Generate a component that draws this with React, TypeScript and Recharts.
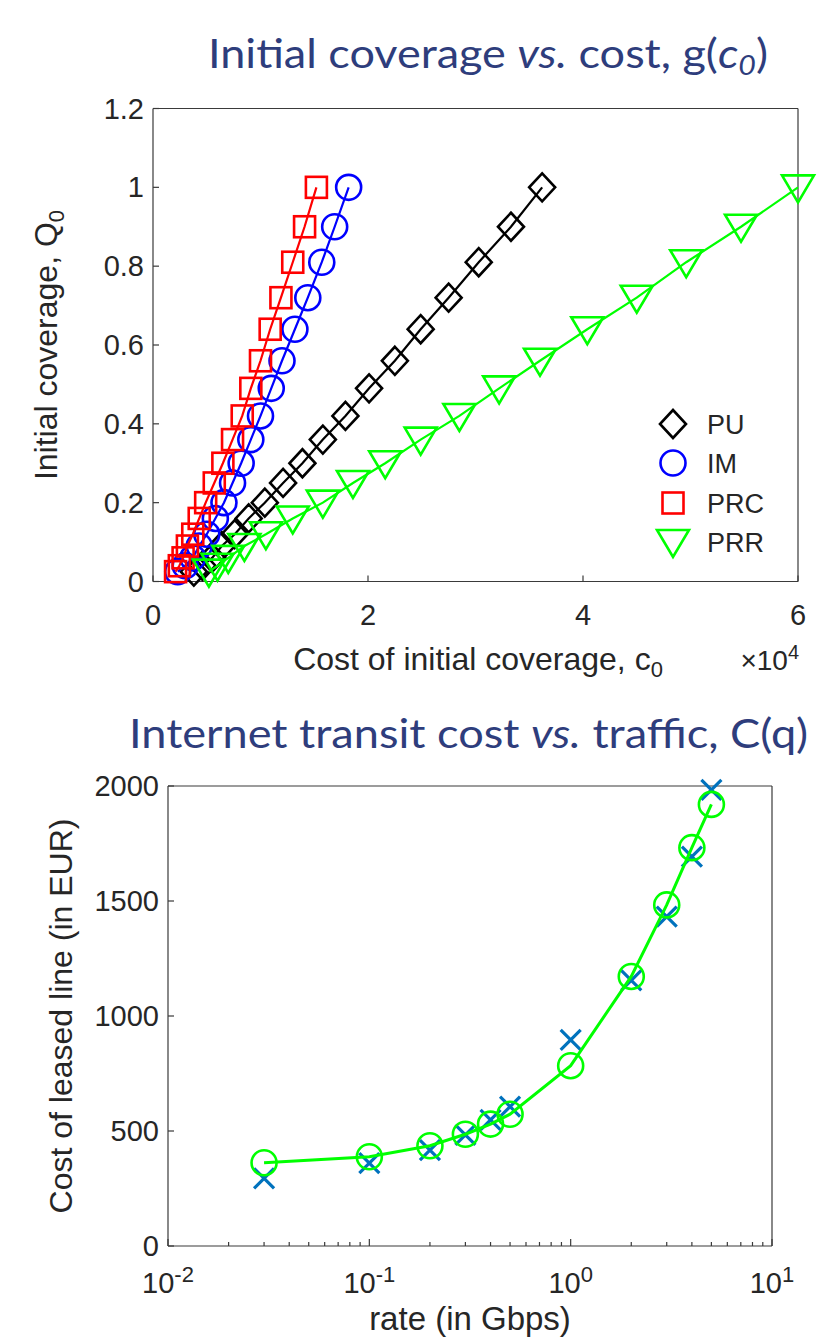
import React from 'react'
import { ScatterChart, Scatter, XAxis, YAxis } from 'recharts'

// initial coverage Q0 (shared by the four strategies) and cost c0 of each
const coverage = [1, 0.9, 0.81, 0.72, 0.64, 0.56, 0.49, 0.42, 0.36, 0.3, 0.25, 0.2, 0.16, 0.12, 0.09, 0.06, 0.04, 0.025]
const costPU = [36200, 33300, 30300, 27500, 24900, 22500, 20100, 17900, 15800, 13900, 12100, 10400, 8900, 7600, 6400, 5500, 4600, 3800]
const costIM = [18200, 16900, 15700, 14400, 13200, 12000, 11000, 10000, 9100, 8200, 7400, 6600, 5800, 5000, 4300, 3700, 3000, 2300]
const costPRC = [15200, 14100, 13000, 11900, 10900, 10000, 9100, 8300, 7400, 6500, 5700, 4900, 4300, 3700, 3200, 2800, 2450, 2100]
const costPRR = [60000, 54700, 49600, 45000, 40400, 36000, 32200, 28500, 24900, 21600, 18600, 15800, 13000, 10500, 8500, 7000, 6000, 5200]
const costTicks = [0, 20000, 40000, 60000]
const coverageTicks = [0, 0.2, 0.4, 0.6, 0.8, 1, 1.2]
const strategies = ['PU', 'IM', 'PRC', 'PRR']

// leased line cost vs rate
const rateGbps = [0.03, 0.1, 0.2, 0.3, 0.4, 0.5, 1, 2, 3, 4, 5]
const leasedEUR = [294, 360, 417, 483, 548, 606, 896, 1155, 1432, 1693, 1983]
const fittedEUR = [362, 388, 436, 486, 530, 573, 784, 1172, 1483, 1732, 1920]
const rateTicks = [0.01, 0.1, 1, 10]
const rateMinorTicks = [0.02, 0.03, 0.04, 0.05, 0.06, 0.07, 0.08, 0.09, 0.2, 0.3, 0.4, 0.5, 0.6, 0.7, 0.8, 0.9, 2, 3, 4, 5, 6, 7, 8, 9]
const eurTicks = [0, 500, 1000, 1500, 2000]

const FONT = '"Liberation Sans", Arial, Helvetica, sans-serif'
const TITLE_FONT = 'Lato, "Open Sans", sans-serif'
const TITLE = '#2e3d7c'
const AXIS = '#3a3a3a'
const INK = '#262626'
const GREEN = '#00ff00'
const MATLAB_BLUE = '#0072bd'

const pts = (xs: number[], ys: number[]) => xs.map((x, i) => ({ x, y: ys[i] }))

const Diamond = ({ cx, cy }: any) => (
  <path d={`M${cx},${cy - 14}L${cx + 13},${cy}L${cx},${cy + 14}L${cx - 13},${cy}Z`} fill="none" stroke="#000" strokeWidth={2.6} />
)
const Ring = ({ cx, cy, color }: any) => (
  <circle cx={cx} cy={cy} r={12.5} fill="none" stroke={color} strokeWidth={2.6} />
)
const Square = ({ cx, cy }: any) => (
  <rect x={cx - 10.5} y={cy - 10.5} width={21} height={21} fill="none" stroke="#ff0000" strokeWidth={2.6} />
)
const TriDown = ({ cx, cy }: any) => (
  <path d={`M${cx - 16},${cy - 12}L${cx + 16},${cy - 12}L${cx},${cy + 15}Z`} fill="none" stroke={GREEN} strokeWidth={2.6} />
)
const Cross = ({ cx, cy }: any) => (
  <path d={`M${cx - 10},${cy - 10}L${cx + 10},${cy + 10}M${cx + 10},${cy - 10}L${cx - 10},${cy + 10}`} stroke={MATLAB_BLUE} strokeWidth={3.2} />
)

const fmtQ = (v: number) => (v === 0 ? '0' : v === 1 ? '1' : String(v))

// ticks point inwards like matlab's box
const CostTick = ({ x, y, payload }: any) => (
  <g>
    <line x1={x} x2={x} y1={y} y2={y - 6} stroke={AXIS} strokeWidth={1.2} />
    <text x={x} y={y + 43} textAnchor="middle" fontSize={29} fontFamily={FONT} fill={INK}>
      {payload.value / 10000}
    </text>
  </g>
)
const TopTick = ({ x, y, payload, len }: any) => {
  const l = len ?? (rateTicks.includes(payload.value) ? 7 : 4)
  return <line x1={x} x2={x} y1={y} y2={y + l} stroke={AXIS} strokeWidth={1.2} />
}
const LeftTick = ({ x, y, payload, fmt }: any) => (
  <g>
    <line x1={x} x2={x + 6} y1={y} y2={y} stroke={AXIS} strokeWidth={1.2} />
    <text x={x - 9} y={y + 10} textAnchor="end" fontSize={29} fontFamily={FONT} fill={INK}>
      {fmt(payload.value)}
    </text>
  </g>
)
const RightTick = ({ x, y }: any) => <line x1={x} x2={x - 6} y1={y} y2={y} stroke={AXIS} strokeWidth={1.2} />

const RateTick = ({ x, y, payload }: any) => {
  const major = rateTicks.includes(payload.value)
  return (
    <g>
      <line x1={x} x2={x} y1={y} y2={y - (major ? 7 : 4)} stroke={AXIS} strokeWidth={1.2} />
      {major && (
        <text x={x} y={y + 47} textAnchor="middle" fontSize={29} fontFamily={FONT} fill={INK}>
          <tspan>10</tspan>
          <tspan dy={-11} fontSize={22}>{Math.round(Math.log10(payload.value))}</tspan>
        </text>
      )}
    </g>
  )
}

const legendRows = [424, 463, 503, 542]
const legendMarks = [
  (cx: number, cy: number) => <Diamond cx={cx} cy={cy} />,
  (cx: number, cy: number) => <Ring cx={cx} cy={cy} color="#0000ff" />,
  (cx: number, cy: number) => <Square cx={cx} cy={cy} />,
  (cx: number, cy: number) => <TriDown cx={cx} cy={cy} />,
]

function CoverageChart() {
  return (
    <ScatterChart width={817} height={640} margin={{ top: 107.5, right: 18, bottom: 57.5, left: 152 }}>
      <XAxis type="number" dataKey="x" domain={[0, 60000]} ticks={costTicks} interval={0} height={1}
        tickSize={0} tickMargin={0} tickLine={false} axisLine={{ stroke: AXIS, strokeWidth: 1.2 }} tick={(p: any) => <CostTick {...p} />} />
      <XAxis xAxisId="top" orientation="top" type="number" domain={[0, 60000]} ticks={costTicks} interval={0} height={1}
        tickSize={0} tickMargin={0} tickLine={false} axisLine={{ stroke: AXIS, strokeWidth: 1.2 }} tick={(p: any) => <TopTick {...p} len={6} />} />
      <YAxis type="number" dataKey="y" domain={[0, 1.2]} ticks={coverageTicks} interval={0} width={1}
        tickSize={0} tickMargin={0} tickLine={false} axisLine={{ stroke: AXIS, strokeWidth: 1.2 }} tick={(p: any) => <LeftTick {...p} fmt={fmtQ} />} />
      <YAxis yAxisId="right" orientation="right" type="number" domain={[0, 1.2]} ticks={coverageTicks} interval={0} width={1}
        tickSize={0} tickMargin={0} tickLine={false} axisLine={{ stroke: AXIS, strokeWidth: 1.2 }} tick={(p: any) => <RightTick {...p} />} />
      <Scatter name="PU" data={pts(costPU, coverage)} line={{ stroke: '#000', strokeWidth: 2.2 }} lineType="joint"
        shape={(p: any) => <Diamond cx={p.cx} cy={p.cy} />} isAnimationActive={false} />
      <Scatter name="IM" data={pts(costIM, coverage)} line={{ stroke: '#0000ff', strokeWidth: 2.2 }} lineType="joint"
        shape={(p: any) => <Ring cx={p.cx} cy={p.cy} color="#0000ff" />} isAnimationActive={false} />
      <Scatter name="PRC" data={pts(costPRC, coverage)} line={{ stroke: '#ff0000', strokeWidth: 2.2 }} lineType="joint"
        shape={(p: any) => <Square cx={p.cx} cy={p.cy} />} isAnimationActive={false} />
      <Scatter name="PRR" data={pts(costPRR, coverage)} line={{ stroke: GREEN, strokeWidth: 2.2 }} lineType="joint"
        shape={(p: any) => <TriDown cx={p.cx} cy={p.cy} />} isAnimationActive={false} />
    </ScatterChart>
  )
}

function TransitChart() {
  return (
    <ScatterChart width={817} height={638} margin={{ top: 85, right: 44, bottom: 91, left: 167 }}>
      <XAxis type="number" dataKey="x" scale="log" domain={[0.01, 10]} allowDataOverflow ticks={[...rateTicks, ...rateMinorTicks]}
        interval={0} height={1} tickSize={0} tickMargin={0} tickLine={false} axisLine={{ stroke: AXIS, strokeWidth: 1.2 }}
        tick={(p: any) => <RateTick {...p} />} />
      <XAxis xAxisId="top" orientation="top" type="number" scale="log" domain={[0.01, 10]} allowDataOverflow
        ticks={[...rateTicks, ...rateMinorTicks]} interval={0} height={1} tickSize={0} tickMargin={0} tickLine={false}
        axisLine={{ stroke: AXIS, strokeWidth: 1.2 }} tick={(p: any) => <TopTick {...p} />} />
      <YAxis type="number" dataKey="y" domain={[0, 2000]} ticks={eurTicks} interval={0} width={1}
        tickSize={0} tickMargin={0} tickLine={false} axisLine={{ stroke: AXIS, strokeWidth: 1.2 }} tick={(p: any) => <LeftTick {...p} fmt={String} />} />
      <YAxis yAxisId="right" orientation="right" type="number" domain={[0, 2000]} ticks={eurTicks} interval={0} width={1}
        tickSize={0} tickMargin={0} tickLine={false} axisLine={{ stroke: AXIS, strokeWidth: 1.2 }} tick={(p: any) => <RightTick {...p} />} />
      <Scatter name="leased" data={pts(rateGbps, leasedEUR)} shape={(p: any) => <Cross cx={p.cx} cy={p.cy} />} isAnimationActive={false} />
      <Scatter name="fit" data={pts(rateGbps, fittedEUR)} line={{ stroke: GREEN, strokeWidth: 3 }} lineType="joint"
        shape={(p: any) => <Ring cx={p.cx} cy={p.cy} color={GREEN} />} isAnimationActive={false} />
    </ScatterChart>
  )
}

function Texts() {
  return (
    <svg width={817} height={1338} style={{ position: 'absolute', left: 0, top: 0, pointerEvents: 'none' }}>
      <text x={208} y={68} textLength={560} lengthAdjust="spacingAndGlyphs" fontSize={40} fontFamily={TITLE_FONT} fill={TITLE}>
        Initial coverage <tspan fontStyle="italic">vs.</tspan> cost, g(<tspan fontStyle="italic">c</tspan>
        <tspan fontStyle="italic" fontSize={27} dy={7}>0</tspan><tspan dy={-7}>)</tspan>
      </text>
      <text x={129} y={748} textLength={679} lengthAdjust="spacingAndGlyphs" fontSize={40} fontFamily={TITLE_FONT} fill={TITLE}>
        Internet transit cost <tspan fontStyle="italic">vs.</tspan> traffic, C(q)
      </text>

      <text x={478} y={670} textAnchor="middle" fontSize={32} fontFamily={FONT} fill={INK}>
        Cost of initial coverage, c<tspan fontSize={22} dy={7}>0</tspan>
      </text>
      <text x={799} y={670} textAnchor="end" fontSize={28} fontFamily={FONT} fill={INK}>
        ×10<tspan fontSize={20} dy={-11}>4</tspan>
      </text>
      <text x={57} y={345} transform="rotate(-90 57 345)" textAnchor="middle" fontSize={32} fontFamily={FONT} fill={INK}>
        Initial coverage, Q<tspan fontSize={22} dy={7}>0</tspan>
      </text>

      {strategies.map((s, i) => (
        <g key={s}>
          {legendMarks[i](673, legendRows[i])}
          <text x={707} y={legendRows[i] + 10} fontSize={27} fontFamily={FONT} fill={INK}>{s}</text>
        </g>
      ))}

      <text x={470} y={1330} textAnchor="middle" fontSize={33} fontFamily={FONT} fill={INK}>rate (in Gbps)</text>
      <text x={72} y={1016} transform="rotate(-90 72 1016)" textAnchor="middle" fontSize={32} fontFamily={FONT} fill={INK}>
        Cost of leased line (in EUR)
      </text>
    </svg>
  )
}

export default function App() {
  return (
    <div style={{ position: 'absolute', left: 0, top: 0, width: 817, height: 1338, background: '#fff', overflow: 'hidden' }}>
      <div style={{ position: 'absolute', left: 0, top: 0 }}>
        <CoverageChart />
      </div>
      <div style={{ position: 'absolute', left: 0, top: 700 }}>
        <TransitChart />
      </div>
      <Texts />
    </div>
  )
}
